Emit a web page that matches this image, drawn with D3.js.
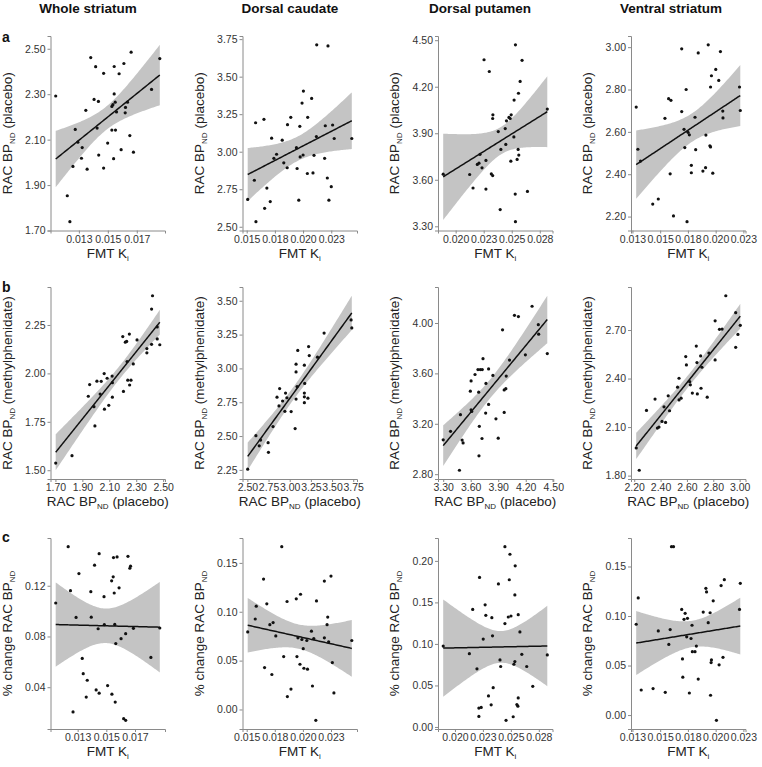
<!DOCTYPE html>
<html><head><meta charset="utf-8">
<script src="https://cdn.jsdelivr.net/npm/d3@7"></script>
<style>body{margin:0;background:#fff}svg{display:block}text{font-family:"Liberation Sans",Arial,sans-serif}</style>
</head><body><svg id="c" width="762" height="767"></svg>
<script>
// ---------- categories ----------
const regions = ["Whole striatum","Dorsal caudate","Dorsal putamen","Ventral striatum"];
const rowLetters = ["a","b","c"];

// ---------- row a: FMT Ki (x) vs RAC BPND placebo (y) ----------
const aWholeX = [0.01140,0.01220,0.01238,0.01259,0.01275,0.01293,0.01323,0.01318,0.01348,0.01357,0.01382,0.01405,0.01416,0.01426,0.01435,0.01437,0.01471,0.01471,0.01499,0.01528,0.01535,0.01528,0.01544,0.01544,0.01551,0.01553,0.01540,0.01560,0.01578,0.01592,0.01611,0.01620,0.01622,0.01636,0.01652,0.01661,0.01677,0.01802,0.01859];
const aWholeY = [2.292,1.853,1.739,1.982,2.145,2.089,2.065,2.018,2.229,1.970,2.461,2.277,2.421,2.151,2.268,2.032,2.392,1.975,2.085,2.246,2.254,2.142,2.301,2.422,2.265,2.142,2.016,2.222,2.390,2.056,2.435,2.218,2.242,2.265,2.118,2.485,2.045,2.321,2.457];
const aCaudX = [0.01509,0.01568,0.01579,0.01582,0.01653,0.01659,0.01679,0.01709,0.01721,0.01741,0.01765,0.01815,0.01829,0.01862,0.01859,0.01891,0.01941,0.01947,0.01962,0.01971,0.01974,0.01991,0.02003,0.02000,0.02041,0.02038,0.02076,0.02088,0.02097,0.02118,0.02121,0.02191,0.02197,0.02215,0.02221,0.02229,0.02250,0.02262,0.02276,0.02432];
const aCaudY = [2.682,2.810,3.193,2.534,3.216,2.623,2.758,2.668,3.090,2.956,2.983,3.077,2.926,3.180,2.893,3.229,3.027,2.888,2.677,3.169,2.965,3.324,3.404,2.978,3.229,2.855,3.355,2.859,2.976,3.101,3.712,2.956,3.173,2.825,3.705,2.677,2.767,3.178,3.088,3.088];
const aPutX = [0.01889,0.02125,0.02155,0.02193,0.02208,0.02217,0.02235,0.02253,0.02270,0.02270,0.02300,0.02318,0.02330,0.02330,0.02332,0.02380,0.02397,0.02403,0.02442,0.02447,0.02453,0.02475,0.02486,0.02495,0.02492,0.02519,0.02521,0.02533,0.02531,0.02533,0.02548,0.02557,0.02560,0.02563,0.02575,0.02592,0.02640,0.02817];
const aPutY = [3.636,3.634,3.547,3.699,3.707,3.764,3.677,4.374,3.725,3.540,4.298,3.638,3.627,3.995,4.019,3.911,3.408,3.796,3.930,3.828,3.980,4.002,3.995,4.019,3.720,3.876,4.114,4.470,3.508,3.330,3.731,3.796,4.158,3.759,4.234,4.370,3.525,4.056];
const aVentX = [0.01284,0.01299,0.01323,0.01433,0.01483,0.01543,0.01576,0.01597,0.01590,0.01620,0.01694,0.01694,0.01715,0.01722,0.01734,0.01742,0.01751,0.01763,0.01781,0.01781,0.01814,0.01820,0.01843,0.01885,0.01909,0.01912,0.01933,0.01948,0.01954,0.01954,0.01962,0.01974,0.02001,0.02028,0.02043,0.02064,0.02066,0.02215,0.02222];
const aVentY = [2.717,2.518,2.462,2.259,2.283,2.664,2.757,2.749,2.402,2.203,2.992,2.696,2.612,2.526,2.800,2.176,2.598,2.586,2.442,2.407,2.669,2.516,2.973,2.415,2.431,2.585,3.011,2.534,2.529,2.812,2.865,2.405,2.895,2.843,2.979,2.698,2.666,2.812,2.701];

// ---------- row b: RAC BPND placebo (x) vs methylphenidate (y) ----------
const bWholeX = [1.702,1.823,1.944,1.954,1.986,1.993,2.008,2.032,2.040,2.062,2.064,2.084,2.096,2.121,2.123,2.123,2.205,2.200,2.219,2.229,2.249,2.232,2.237,2.251,2.261,2.278,2.306,2.379,2.379,2.414,2.414,2.421,2.456,2.475,2.456];
const bWholeY = [1.537,1.575,1.882,1.942,1.828,1.729,1.960,1.893,1.959,1.999,1.815,1.975,1.835,1.986,1.952,1.877,1.907,2.190,2.161,2.165,2.203,2.061,1.965,1.940,1.965,2.049,2.173,2.128,2.106,2.150,2.332,2.401,2.178,2.148,2.240];
const bCaudX = [2.504,2.601,2.640,2.656,2.745,2.749,2.803,2.850,2.873,2.881,2.916,2.943,2.951,2.967,3.017,3.064,3.075,3.075,3.075,3.095,3.087,3.173,3.177,3.173,3.173,3.173,3.215,3.223,3.231,3.328,3.406,3.725,3.733];
const bCaudY = [2.255,2.503,2.428,2.470,2.451,2.380,2.570,2.787,2.723,2.851,2.759,2.683,2.818,2.783,2.681,2.555,2.773,3.031,2.974,3.133,2.866,3.024,2.889,2.818,2.790,2.747,2.780,3.161,3.095,3.083,3.261,3.358,3.299];
const bPutX = [3.300,3.380,3.477,3.488,3.506,3.517,3.596,3.604,3.604,3.611,3.647,3.679,3.687,3.690,3.694,3.705,3.726,3.723,3.734,3.766,3.763,3.795,3.795,3.842,3.875,3.900,3.947,3.965,3.965,3.983,3.987,4.023,4.077,4.120,4.196,4.269,4.337,4.341,4.435];
const bPutY = [3.073,3.140,2.831,3.272,3.071,3.048,3.459,3.540,3.311,3.298,3.591,3.630,3.451,2.946,3.180,3.630,3.630,3.083,3.717,3.520,3.285,3.635,3.354,3.584,3.239,3.086,3.946,3.290,3.469,3.479,3.579,3.706,4.061,4.051,3.747,4.133,3.987,3.911,3.757];
const bVentX = [2.215,2.238,2.293,2.358,2.376,2.388,2.411,2.426,2.438,2.458,2.468,2.529,2.540,2.540,2.556,2.591,2.596,2.621,2.626,2.641,2.671,2.676,2.679,2.704,2.707,2.714,2.754,2.767,2.814,2.814,2.847,2.867,2.895,2.970,2.970,2.987,3.005];
const bVentY = [1.971,1.833,2.203,2.273,2.094,2.100,2.135,2.225,2.129,2.293,2.201,2.347,2.402,2.268,2.279,2.536,2.484,2.381,2.361,2.310,2.601,2.499,2.305,2.540,2.340,2.470,2.285,2.558,2.515,2.757,2.704,2.706,2.912,2.807,2.593,2.673,2.729];

// ---------- row c: FMT Ki (x) vs % change RAC BPND (y) ----------
const cWholeX = [0.01147,0.01234,0.01250,0.01268,0.01289,0.01309,0.01332,0.01339,0.01360,0.01367,0.01392,0.01395,0.01418,0.01429,0.01443,0.01450,0.01450,0.01484,0.01486,0.01509,0.01537,0.01539,0.01548,0.01550,0.01555,0.01559,0.01562,0.01566,0.01575,0.01589,0.01603,0.01621,0.01635,0.01635,0.01651,0.01664,0.01669,0.01689,0.01811,0.01873];
const cWholeY = [0.1064,0.1508,0.1161,0.0205,0.0950,0.1296,0.0627,0.0507,0.0322,0.0455,0.1153,0.0952,0.1362,0.0379,0.0861,0.1453,0.0353,0.1114,0.0893,0.0413,0.1239,0.0345,0.1270,0.1422,0.1143,0.0895,0.0283,0.0744,0.1427,0.1184,0.0783,0.0152,0.0139,0.0822,0.1432,0.1338,0.1354,0.0864,0.0635,0.0867];
const cCaudX = [0.01509,0.01576,0.01585,0.01650,0.01659,0.01679,0.01706,0.01724,0.01735,0.01759,0.01812,0.01829,0.01859,0.01862,0.01894,0.01941,0.01947,0.01956,0.01974,0.01979,0.01991,0.02003,0.02009,0.02035,0.02041,0.02076,0.02085,0.02097,0.02115,0.02121,0.02191,0.02191,0.02215,0.02221,0.02229,0.02250,0.02262,0.02276,0.02435];
const cCaudY = [0.0794,0.0926,0.1057,0.1334,0.0429,0.1081,0.0868,0.0358,0.0889,0.0753,0.1666,0.0541,0.1105,0.0132,0.0209,0.1132,0.0541,0.0733,0.0463,0.1179,0.0716,0.0622,0.0422,0.0706,0.0412,0.0801,0.0240,0.0726,-0.0111,0.1111,0.1314,0.0733,0.0868,0.0946,0.0693,0.1365,0.0480,0.0169,0.0706];
const cPutX = [0.01895,0.02129,0.02159,0.02197,0.02214,0.02214,0.02220,0.02235,0.02253,0.02270,0.02276,0.02300,0.02324,0.02330,0.02336,0.02342,0.02389,0.02403,0.02409,0.02447,0.02447,0.02457,0.02477,0.02486,0.02492,0.02501,0.02521,0.02527,0.02536,0.02536,0.02539,0.02554,0.02563,0.02566,0.02566,0.02581,0.02598,0.02642,0.02696,0.02826];
const cPutY = [0.0974,0.0883,0.1416,0.0700,0.0127,0.0227,0.1801,0.0235,0.1058,0.1471,0.1344,0.0374,0.0266,0.1316,0.1097,0.0473,0.1722,0.0807,0.0728,0.1245,0.2171,0.0080,0.1324,0.1773,0.2080,0.1336,0.0123,0.0755,0.0787,0.1590,0.1940,0.0270,0.0250,0.0350,0.1352,0.1145,0.0875,0.0728,0.0489,0.0867];
const cVentX = [0.01284,0.01302,0.01329,0.01436,0.01483,0.01546,0.01578,0.01590,0.01602,0.01620,0.01694,0.01701,0.01704,0.01715,0.01725,0.01739,0.01746,0.01763,0.01778,0.01790,0.01787,0.01814,0.01826,0.01843,0.01888,0.01912,0.01918,0.01933,0.01950,0.01959,0.01962,0.01954,0.01978,0.02007,0.02031,0.02049,0.02066,0.02078,0.02215,0.02222];
const cVentY = [0.0917,0.1183,0.0253,0.0267,0.0850,0.0230,0.0713,0.0863,0.1700,0.1700,0.1067,0.0567,0.0383,0.0967,0.1027,0.0790,0.0977,0.0223,0.0773,0.0640,0.0907,0.0640,0.0697,0.0363,0.1040,0.1280,0.1243,0.0933,0.1033,0.0530,0.0557,0.0200,0.1153,-0.0053,0.0507,0.1307,0.0583,0.1367,0.1067,0.1330];

// ---------- tick values and labels ----------
const fmtTicks = [[0.013,0.015,0.017],[0.015,0.0175,0.020,0.0225],[0.020,0.0225,0.025,0.0275],[0.0125,0.015,0.0175,0.020,0.0225]];
const fmtLabels = [["0.013","0.015","0.017"],["0.015","0.018","0.020","0.023"],["0.020","0.023","0.025","0.028"],["0.013","0.015","0.018","0.020","0.023"]];
const placeboTicks = [[1.7,1.9,2.1,2.3,2.5],[2.5,2.75,3.0,3.25,3.5,3.75],[3.3,3.6,3.9,4.2,4.5],[2.2,2.4,2.6,2.8,3.0]];
const placeboLabels = [["1.70","1.90","2.10","2.30","2.50"],["2.50","2.75","3.00","3.25","3.50","3.75"],["3.30","3.60","3.90","4.20","4.50"],["2.20","2.40","2.60","2.80","3.00"]];
const mphTicks = [[1.5,1.75,2.0,2.25],[2.25,2.5,2.75,3.0,3.25,3.5],[2.8,3.2,3.6,4.0],[1.8,2.1,2.4,2.7]];
const mphLabels = [["1.50","1.75","2.00","2.25"],["2.25","2.50","2.75","3.00","3.25","3.50"],["2.80","3.20","3.60","4.00"],["1.80","2.10","2.40","2.70"]];
const changeTicks = [[0.04,0.08,0.12],[0.00,0.05,0.10,0.15],[0.00,0.05,0.10,0.15,0.20],[0.00,0.05,0.10,0.15]];
const changeLabels = [["0.04","0.08","0.12"],["0.00","0.05","0.10","0.15"],["0.00","0.05","0.10","0.15","0.20"],["0.00","0.05","0.10","0.15"]];

// ---------- layout ----------
const colL = [50.5, 242.5, 438, 631];
const panelW = 114.5;
const rowT = [36, 287, 538];
const rowB = [230.5, 479, 729];
const titleX = [88, 290, 480, 671];
const letterY = [42, 292, 542];

const svg = d3.select("#c");
const FONT = '"Liberation Sans",Arial,sans-serif';

const rows = [
  {xs:[aWholeX,aCaudX,aPutX,aVentX], ys:[aWholeY,aCaudY,aPutY,aVentY], xt:fmtTicks, xl:fmtLabels, yt:placeboTicks, yl:placeboLabels, xTitle:["FMT K","i",""], yTitle:["RAC BP","ND"," (placebo)"]},
  {xs:[bWholeX,bCaudX,bPutX,bVentX], ys:[bWholeY,bCaudY,bPutY,bVentY], xt:placeboTicks, xl:placeboLabels, yt:mphTicks, yl:mphLabels, xTitle:["RAC BP","ND"," (placebo)"], yTitle:["RAC BP","ND"," (methylphenidate)"]},
  {xs:[cWholeX,cCaudX,cPutX,cVentX], ys:[cWholeY,cCaudY,cPutY,cVentY], xt:fmtTicks, xl:fmtLabels, yt:changeTicks, yl:changeLabels, xTitle:["FMT K","i",""], yTitle:["% change RAC BP","ND",""]}
];

function fit(xs, ys){
  const n = xs.length, mx = d3.mean(xs), my = d3.mean(ys);
  let sxx=0, sxy=0;
  for(let i=0;i<n;i++){ sxx+=(xs[i]-mx)**2; sxy+=(xs[i]-mx)*(ys[i]-my); }
  const b = sxy/sxx, a = my-b*mx;
  let sse=0; for(let i=0;i<n;i++){ sse+=(ys[i]-a-b*xs[i])**2; }
  const s = Math.sqrt(sse/(n-2));
  const df = n-2, z = 1.959964;
  const t = z + (z**3+z)/(4*df) + (5*z**5+16*z**3+3*z)/(96*df*df);
  const [x0,x1] = d3.extent(xs);
  return d3.range(81).map(k=>{
    const x = x0+(x1-x0)*k/80, yh = a+b*x;
    const se = s*Math.sqrt(1/n+(x-mx)**2/sxx);
    return {x, y:yh, lo:yh-t*se, hi:yh+t*se};
  });
}

function addTitle(g, parts, attrs, sub){
  const t = g.append("text").attr("font-family",FONT);
  Object.entries(attrs).forEach(([k,v])=>t.attr(k,v));
  t.append("tspan").text(parts[0]);
  t.append("tspan").attr("font-size",sub).attr("dy",3).text(parts[1]);
  if(parts[2]) t.append("tspan").attr("dy",-3).text(parts[2]);
  return t;
}

regions.forEach((r,c)=>{
  svg.append("text").attr("x",titleX[c]).attr("y",13).attr("text-anchor","middle")
    .attr("font-weight","bold").attr("font-size",13.5).attr("fill","#111").text(r);
});
rowLetters.forEach((l,r)=>{
  svg.append("text").attr("x",2).attr("y",letterY[r]).attr("font-weight","bold")
    .attr("font-size",14).attr("fill","#111").text(l);
});

rows.forEach((row,r)=>{
  for(let c=0;c<4;c++){
    const xs=row.xs[c], ys=row.ys[c];
    const pts = fit(xs,ys);
    const L=colL[c], R=L+panelW, T=rowT[r], B=rowB[r];
    const xe = d3.extent(xs), ye = d3.extent(ys.concat(pts.map(p=>p.lo),pts.map(p=>p.hi)));
    const xp = (xe[1]-xe[0])*0.05, yp=(ye[1]-ye[0])*0.05;
    const x = d3.scaleLinear().domain([xe[0]-xp, xe[1]+xp]).range([L,R]);
    const y = d3.scaleLinear().domain([ye[0]-yp, ye[1]+yp]).range([B,T]);
    const g = svg.append("g");

    g.append("path").datum(pts)
      .attr("d", d3.area().x(d=>x(d.x)).y0(d=>y(d.lo)).y1(d=>y(d.hi)))
      .attr("fill","#c4c4c4");
    g.selectAll("circle.p").data(xs.map((v,i)=>[v,ys[i]])).join("circle")
      .attr("cx",d=>x(d[0])).attr("cy",d=>y(d[1])).attr("r",1.6).attr("fill","#111");
    g.append("path").datum(pts)
      .attr("d", d3.line().x(d=>x(d.x)).y(d=>y(d.y)))
      .attr("fill","none").attr("stroke","#111").attr("stroke-width",1.5);

    const ax = g.append("g").attr("transform",`translate(0,${B})`)
      .call(d3.axisBottom(x).tickValues(row.xt[c]).tickFormat((d,i)=>row.xl[c][i]).tickSizeOuter(0).tickSize(3).tickPadding(2));
    const ay = g.append("g").attr("transform",`translate(${L},0)`)
      .call(d3.axisLeft(y).tickValues(row.yt[c]).tickFormat((d,i)=>row.yl[c][i]).tickSizeOuter(0).tickSize(3).tickPadding(2));
    [ax,ay].forEach(a=>{
      a.select(".domain").attr("stroke","#8a8a8a").attr("stroke-width",1);
      a.selectAll(".tick line").attr("stroke","#8a8a8a");
      a.selectAll(".tick text").attr("font-size",10.5).attr("font-family",FONT).attr("fill","#333");
    });

    addTitle(g, row.xTitle, {x:(L+R)/2, y:B+27, "text-anchor":"middle", "font-size":13.5, fill:"#222"}, 8);
    addTitle(g, row.yTitle, {transform:`translate(${L-39},${(T+B)/2}) rotate(-90)`, "text-anchor":"middle", "font-size":13.5, fill:"#222"}, 8);
  }
});
</script></body></html>
